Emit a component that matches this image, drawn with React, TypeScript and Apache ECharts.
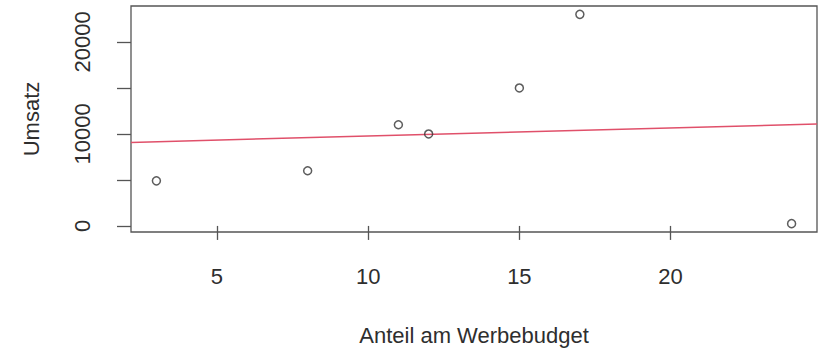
import React, { useEffect, useRef } from "react";
import * as echarts from "echarts";

const anteil = [3, 8, 11, 12, 15, 17, 24];
const umsatz = [4900, 6000, 11000, 10000, 15000, 23000, 250];
const xTicks = [5, 10, 15, 20];
const yTicks = [0, 5000, 10000, 15000, 20000];
const yLabels = [0, 10000, 20000];
const xTitle = "Anteil am Werbebudget";
const yTitle = "Umsatz";

function rRange(v: number[]) {
  const lo = Math.min(...v);
  const hi = Math.max(...v);
  const e = (hi - lo) * 0.04;
  return [lo - e, hi + e];
}

function regression(x: number[], y: number[]) {
  const n = x.length;
  const mx = x.reduce((a, b) => a + b, 0) / n;
  const my = y.reduce((a, b) => a + b, 0) / n;
  let sxy = 0;
  let sxx = 0;
  for (let i = 0; i < n; i++) {
    sxy += (x[i] - mx) * (y[i] - my);
    sxx += (x[i] - mx) * (x[i] - mx);
  }
  const b = sxy / sxx;
  return { a: my - b * mx, b };
}

export default function App() {
  const ref = useRef<HTMLDivElement>(null);
  useEffect(() => {
    if (!ref.current) return;
    const chart = echarts.init(ref.current, null, { renderer: "svg" });
    const [xMin, xMax] = rRange(anteil);
    const [yMin, yMax] = rRange(umsatz);
    const { a, b } = regression(anteil, umsatz);
    const font = "'Liberation Sans', Arial, sans-serif";
    const textColor = "#2e2e2e";
    const axisColor = "#555555";
    chart.setOption({
      animation: false,
      backgroundColor: "#ffffff",
      grid: {
        left: 131,
        right: 4,
        top: 6,
        bottom: 116,
        show: true,
        borderColor: axisColor,
        borderWidth: 1.3,
        backgroundColor: "transparent",
      },
      xAxis: {
        type: "value",
        min: xMin,
        max: xMax,
        name: xTitle,
        nameLocation: "middle",
        nameGap: 92,
        nameTextStyle: { fontFamily: font, fontSize: 22, color: textColor },
        splitLine: { show: false },
        axisLine: { show: false },
        axisTick: {
          show: true,
          inside: false,
          length: 14,
          customValues: xTicks,
          lineStyle: { color: axisColor, width: 1.3 },
        },
        axisLabel: {
          customValues: xTicks,
          formatter: (v: number) => String(v),
          fontFamily: font,
          fontSize: 22,
          color: textColor,
          margin: 33,
        },
      },
      yAxis: {
        type: "value",
        min: yMin,
        max: yMax,
        name: yTitle,
        nameLocation: "middle",
        nameGap: 89,
        nameRotate: 90,
        nameTextStyle: { fontFamily: font, fontSize: 22, color: textColor },
        splitLine: { show: false },
        axisLine: { show: false },
        axisTick: {
          show: true,
          inside: false,
          length: 14,
          customValues: yTicks,
          lineStyle: { color: axisColor, width: 1.3 },
        },
        axisLabel: {
          customValues: yLabels,
          formatter: (v: number) => String(v),
          rotate: 90,
          fontFamily: font,
          fontSize: 22,
          color: textColor,
          margin: 38,
        },
      },
      series: [
        {
          type: "line",
          data: [
            [xMin, a + b * xMin],
            [xMax, a + b * xMax],
          ],
          showSymbol: false,
          symbol: "none",
          lineStyle: { color: "#E0506A", width: 1.5 },
          z: 2,
        },
        {
          type: "scatter",
          data: anteil.map((x, i) => [x, umsatz[i]]),
          symbol: "circle",
          symbolSize: 8,
          itemStyle: { color: "rgba(255,255,255,0)", borderColor: "#333333", borderWidth: 1.5 },
          z: 3,
        },
      ],
    });
    return () => chart.dispose();
  }, []);
  return <div ref={ref} style={{ width: 821, height: 351, position: "absolute", left: 0, top: 0 }} />;
}
